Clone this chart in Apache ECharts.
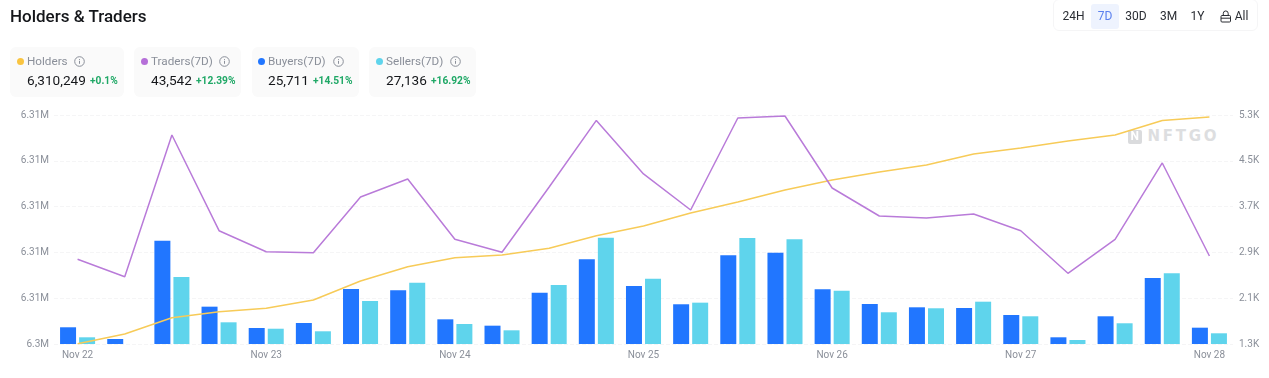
<!DOCTYPE html>
<html>
<head>
<meta charset="utf-8">
<title>Holders & Traders</title>
<script src="https://cdn.jsdelivr.net/npm/echarts@6/dist/echarts.min.js"></script>
<style>
  html, body { margin: 0; padding: 0; background: #fff; font-family: Roboto, sans-serif; }
  #wrap { position: relative; width: 1269px; height: 378px; overflow: hidden; }
  #chart { position: absolute; left: 0; top: 0; width: 1269px; height: 378px; }
  .mark { position: absolute; left: 1147.5px; top: 127px; font: bold 15px/18px "DejaVu Sans"; letter-spacing: 2.7px; color: #dddee0; }
  .title { position: absolute; left: 10px; top: 6px; font-size: 17px; line-height: 20px; font-weight: 500; color: #14161a; }
  .card { position: absolute; top: 47px; height: 50px; background: #fafafa; border-radius: 6px; }
  .dot { position: absolute; top: 11px; width: 7px; height: 7px; border-radius: 50%; }
  .lab { position: absolute; top: 6px; font-size: 11.7px; line-height: 16px; color: #8a8f99; white-space: nowrap; }
  .val { position: absolute; top: 24px; font-size: 13.6px; line-height: 18px; color: #14161a; white-space: nowrap; }
  .pct { position: absolute; top: 26px; font-size: 10.2px; line-height: 16px; font-weight: 700; color: #1fa866; white-space: nowrap; }
  .info { position: absolute; top: 9px; }
  .bar { position: absolute; left: 1053px; top: -1px; width: 205px; height: 32px; border: 1px solid #f5f5f6; border-radius: 6px; box-sizing: border-box; }
  .btn { position: absolute; top: 16px; transform: translate(-50%, -50%); font-size: 12px; color: #2a2d33; white-space: nowrap; }
  .on { position: absolute; left: 1091px; top: 4px; width: 28px; height: 25px; background: #eef3fe; border-radius: 3px; }
</style>
</head>
<body>
<div id="wrap">
  <div class="mark">NFTGO</div>
  <div id="chart"></div>
  <div class="title">Holders &amp; Traders</div>
  <div id="cards"></div>
  <div class="bar"></div>
  <div class="on"></div>
  <div id="btns"></div>
  <svg style="position:absolute;left:1220px;top:10px" width="12" height="13" viewBox="0 0 12 13" fill="none" stroke="#2a2d33" stroke-width="1">
    <rect x="1" y="5.5" width="9.5" height="6.5" rx="1"/>
    <path d="M3.3 5.5V3.4a2.45 2.45 0 0 1 4.9 0v2.1M1 8.2h9.5"/>
  </svg>
</div>
<script>
// categories, one every 6 hours
const days = ['Nov 22', 'Nov 23', 'Nov 24', 'Nov 25', 'Nov 26', 'Nov 27'];
const hours = ['00:00', '06:00', '12:00', '18:00'];
const categories = [];
days.forEach(d => hours.forEach(h => categories.push(d + ' ' + h)));
categories.push('Nov 28 00:00');

// series
const holders = [6304150, 6304413, 6304851, 6305013, 6305104, 6305328, 6305839, 6306223, 6306465, 6306538, 6306718, 6307057, 6307318, 6307668, 6307964, 6308287, 6308556, 6308771, 6308959, 6309255, 6309416, 6309605, 6309766, 6310156, 6310249];
const traders = [2780, 2476, 4951, 3279, 2912, 2895, 3868, 4183, 3129, 2902, 4043, 5205, 4270, 3641, 5248, 5283, 4025, 3536, 3501, 3571, 3279, 2535, 3129, 4462, 2837];
const buyers = [1592, 1387, 3105, 1952, 1580, 1667, 2261, 2238, 1731, 1620, 2196, 2780, 2313, 1994, 2850, 2895, 2256, 1999, 1941, 1929, 1807, 1417, 1784, 2453, 1585];
const sellers = [1417, 1300, 2470, 1679, 1567, 1522, 2051, 2371, 1649, 1539, 2331, 3157, 2441, 2022, 3152, 3129, 2231, 1854, 1924, 2039, 1784, 1370, 1662, 2535, 1487];

// header cards
const cardNames = ['Holders', 'Traders(7D)', 'Buyers(7D)', 'Sellers(7D)'];
const cardValues = ['6,310,249', '43,542', '25,711', '27,136'];
const cardChanges = ['+0.1%', '+12.39%', '+14.51%', '+16.92%'];
const cardColors = ['#f9c440', '#b56fd8', '#2176ff', '#5fd4ec'];
// left, width, text x, info icon x, change x
const cardBoxes = [[10, 114, 17, 69, 80], [134, 107, 17, 90, 62], [252, 107, 16, 86, 61], [369, 107, 17, 86, 62]];
const ranges = ['24H', '7D', '30D', '3M', '1Y', 'All'];
const rangeX = [1073.5, 1105, 1136, 1168.5, 1197.5, 1241.5];

document.getElementById('cards').innerHTML = cardNames.map((n, i) => {
  const [x, w, tx, ix, px] = cardBoxes[i];
  return `<div class="card" style="left:${x}px;width:${w}px">
    <div class="dot" style="left:${tx - 10}px;background:${cardColors[i]}"></div>
    <div class="lab" style="left:${tx}px">${n}</div>
    <svg class="info" style="left:${ix - 5}px" width="11" height="11" viewBox="0 0 11 11" fill="none" stroke="#8a8f99">
      <circle cx="5.5" cy="5.5" r="4.8"/><path d="M5.5 4.8v3M5.5 3v.9"/></svg>
    <div class="val" style="left:${tx}px">${cardValues[i]}</div>
    <div class="pct" style="left:${px}px">${cardChanges[i]}</div>
  </div>`;
}).join('');

document.getElementById('btns').innerHTML = ranges.map((r, i) =>
  `<div class="btn" style="left:${rangeX[i]}px;${r === '7D' ? 'color:#5b80ee' : ''}">${r}</div>`).join('');

const chart = echarts.init(document.getElementById('chart'), null, { renderer: 'canvas' });
const labelStyle = { color: '#8a8f99', fontSize: 10, fontFamily: 'Roboto' };

chart.setOption({
  animation: false,
  grid: { left: 54, right: 36, top: 115, bottom: 34, containLabel: false },
  xAxis: {
    type: 'category',
    data: categories,
    axisLine: { show: false },
    axisTick: { show: false },
    axisLabel: Object.assign({}, labelStyle, {
      interval: 3,
      margin: 6,
      formatter: v => v.slice(0, 6)
    })
  },
  yAxis: [
    {
      type: 'value',
      min: 6304144,
      max: 6310304,
      interval: 1232,
      axisLine: { show: false },
      axisTick: { show: false },
      axisLabel: Object.assign({}, labelStyle, {
        margin: 5,
        formatter: v => parseFloat((v / 1e6).toFixed(2)) + 'M'
      }),
      splitLine: { lineStyle: { color: '#f5f5f6', type: 'dashed', width: 1 } }
    },
    {
      type: 'value',
      min: 1300,
      max: 5300,
      interval: 800,
      axisLine: { show: false },
      axisTick: { show: false },
      axisLabel: Object.assign({}, labelStyle, {
        margin: 6,
        formatter: v => (v / 1000).toFixed(1) + 'K'
      }),
      splitLine: { show: false }
    }
  ],
  graphic: [
    { type: 'rect', left: 1128, top: 130, z: 0, shape: { width: 14, height: 14, r: 2 }, style: { fill: '#dadbdd' } },
    { type: 'text', left: 1130.5, top: 131, z: 1, style: { text: 'N', fill: '#fff', font: 'bold 12px Roboto' } }
  ],
  series: [
    {
      name: 'Buyers(7D)', type: 'bar', yAxisIndex: 1, data: buyers,
      barWidth: 16, barGap: '19%', z: 2,
      itemStyle: { color: '#2176ff' }
    },
    {
      name: 'Sellers(7D)', type: 'bar', yAxisIndex: 1, data: sellers,
      barWidth: 16, z: 2,
      itemStyle: { color: '#5fd4ec' }
    },
    {
      name: 'Holders', type: 'line', yAxisIndex: 0, data: holders,
      showSymbol: false, z: 3,
      lineStyle: { color: '#f7cb58', width: 1.5 }
    },
    {
      name: 'Traders(7D)', type: 'line', yAxisIndex: 1, data: traders,
      showSymbol: false, z: 3,
      lineStyle: { color: '#b97bd9', width: 1.5 }
    }
  ]
});
</script>
</body>
</html>
